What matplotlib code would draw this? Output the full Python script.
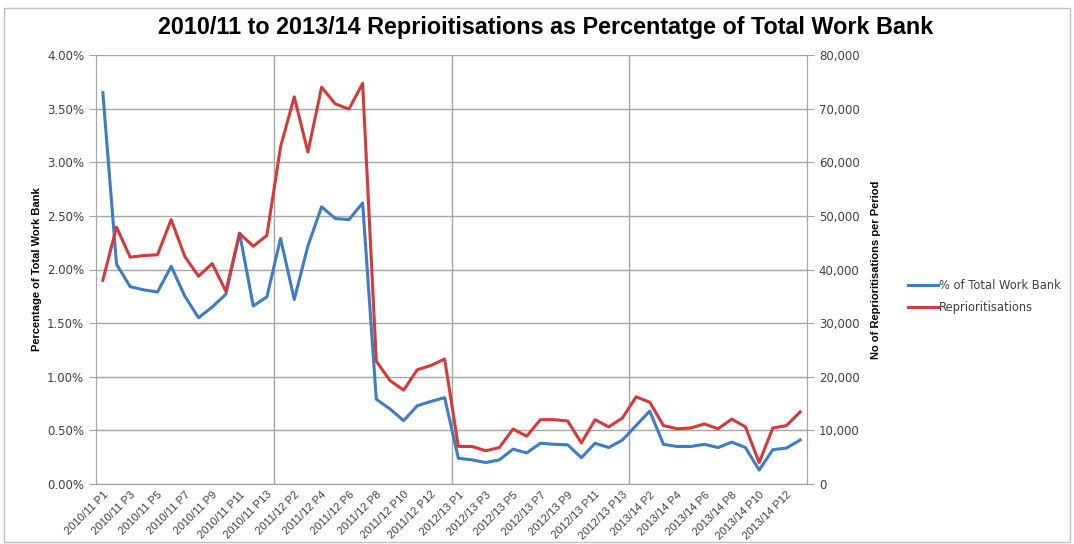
import numpy as np
import matplotlib.pyplot as plt
from matplotlib.ticker import FuncFormatter, MultipleLocator

years = ['2010/11', '2011/12', '2012/13', '2013/14']
periods = ['P%d' % p for p in range(1, 14)]
categories = [y + ' ' + p for y in years for p in periods]

pct_work_bank = [3.65, 2.05, 1.84, 1.81, 1.79, 2.03, 1.75, 1.55, 1.65, 1.77,
                 2.34, 1.66, 1.745, 2.29, 1.72, 2.22, 2.585, 2.475, 2.465, 2.62,
                 0.79, 0.70, 0.59, 0.73, 0.77, 0.805,
                 0.24, 0.225, 0.20, 0.225, 0.325, 0.29, 0.38, 0.37, 0.365, 0.245,
                 0.38, 0.34, 0.41, 0.545, 0.68, 0.37, 0.35, 0.35, 0.37, 0.34,
                 0.39, 0.34, 0.13, 0.32, 0.335, 0.41]

reprioritisations = [38000, 47900, 42300, 42600, 42750, 49300, 42400, 38750, 41100, 35950,
                     46700, 44350, 46350, 62900, 72200, 61900, 74000, 70900, 69900, 74700,
                     22900, 19300, 17500, 21300, 22100, 23300,
                     7000, 7000, 6200, 6800, 10250, 8900, 12000, 12000, 11750, 7650,
                     12000, 10650, 12300, 16250, 15250, 10900, 10300, 10450, 11200, 10300,
                     12100, 10650, 4000, 10450, 10900, 13450]

blue = '#3E7CC4'
red = '#D23B3B'
grid_c = '#A6A6A6'
txt_c = '#404040'
font = ['Liberation Sans', 'DejaVu Sans']

fig = plt.figure(figsize=(10.74, 5.44), dpi=100)
fig.patches.append(plt.Rectangle((0.004, 0.003), 0.992, 0.983, transform=fig.transFigure,
                                 fill=False, edgecolor='#BFBFBF', lw=1))
ax = fig.add_axes([96/1074, 60/544, 711/1074, 429/544])
ax2 = ax.twinx()

x = np.arange(len(categories))
l1, = ax.plot(x, pct_work_bank, color=blue, lw=2.2, label='% of Total Work Bank', zorder=3)
l2, = ax2.plot(x, reprioritisations, color=red, lw=2.2, label='Reprioritisations', zorder=3)

ax.set_xlim(-0.5, len(categories) - 0.5)
ax.set_ylim(0, 4.0)
ax2.set_ylim(0, 80000)
ax.yaxis.set_major_locator(MultipleLocator(0.5))
ax2.yaxis.set_major_locator(MultipleLocator(10000))
ax.yaxis.set_major_formatter(FuncFormatter(lambda v, p: '%.2f%%' % v))
ax2.yaxis.set_major_formatter(FuncFormatter(lambda v, p: '{:,.0f}'.format(v)))

ax.grid(axis='y', color=grid_c, lw=1)
for b in [12.5, 25.5, 38.5]:
    ax.axvline(b, color=grid_c, lw=1, zorder=1)
ax.set_axisbelow(True)

ax.set_xticks(x[::2])
ax.set_xticklabels(categories[::2], rotation=45, ha='right', rotation_mode='anchor',
                   fontsize=8, color=txt_c, family=font)
ax.tick_params(axis='x', length=0, pad=4)
ax.tick_params(axis='y', length=5, color=grid_c, labelsize=8.5, labelcolor=txt_c)
ax2.tick_params(axis='y', length=5, color=grid_c, labelsize=8.5, labelcolor=txt_c)
for a in (ax, ax2):
    a.spines['top'].set_visible(False)
    a.spines['left'].set_color(grid_c)
    a.spines['right'].set_color(grid_c)
    a.spines['bottom'].set_color(grid_c)

ax.set_ylabel('Percentage of Total Work Bank', fontsize=8, fontweight='bold', family=font, labelpad=4)
ax2.set_ylabel('No of Reprioritisations per Period', fontsize=8, fontweight='bold', family=font,
               rotation=90, labelpad=8)

fig.suptitle('2010/11 to 2013/14 Reprioitisations as Percentatge of Total Work Bank',
             x=0.508, y=0.97, fontsize=16.8, fontweight='bold', family=font)

fig.legend(handles=[l1, l2], loc='center left', bbox_to_anchor=(0.845, 0.455), frameon=False,
           fontsize=8.3, handlelength=2.6, handletextpad=0.15, labelspacing=0.8,
           borderpad=0, borderaxespad=0, labelcolor=txt_c)

fig.savefig('out.png', dpi=100)
